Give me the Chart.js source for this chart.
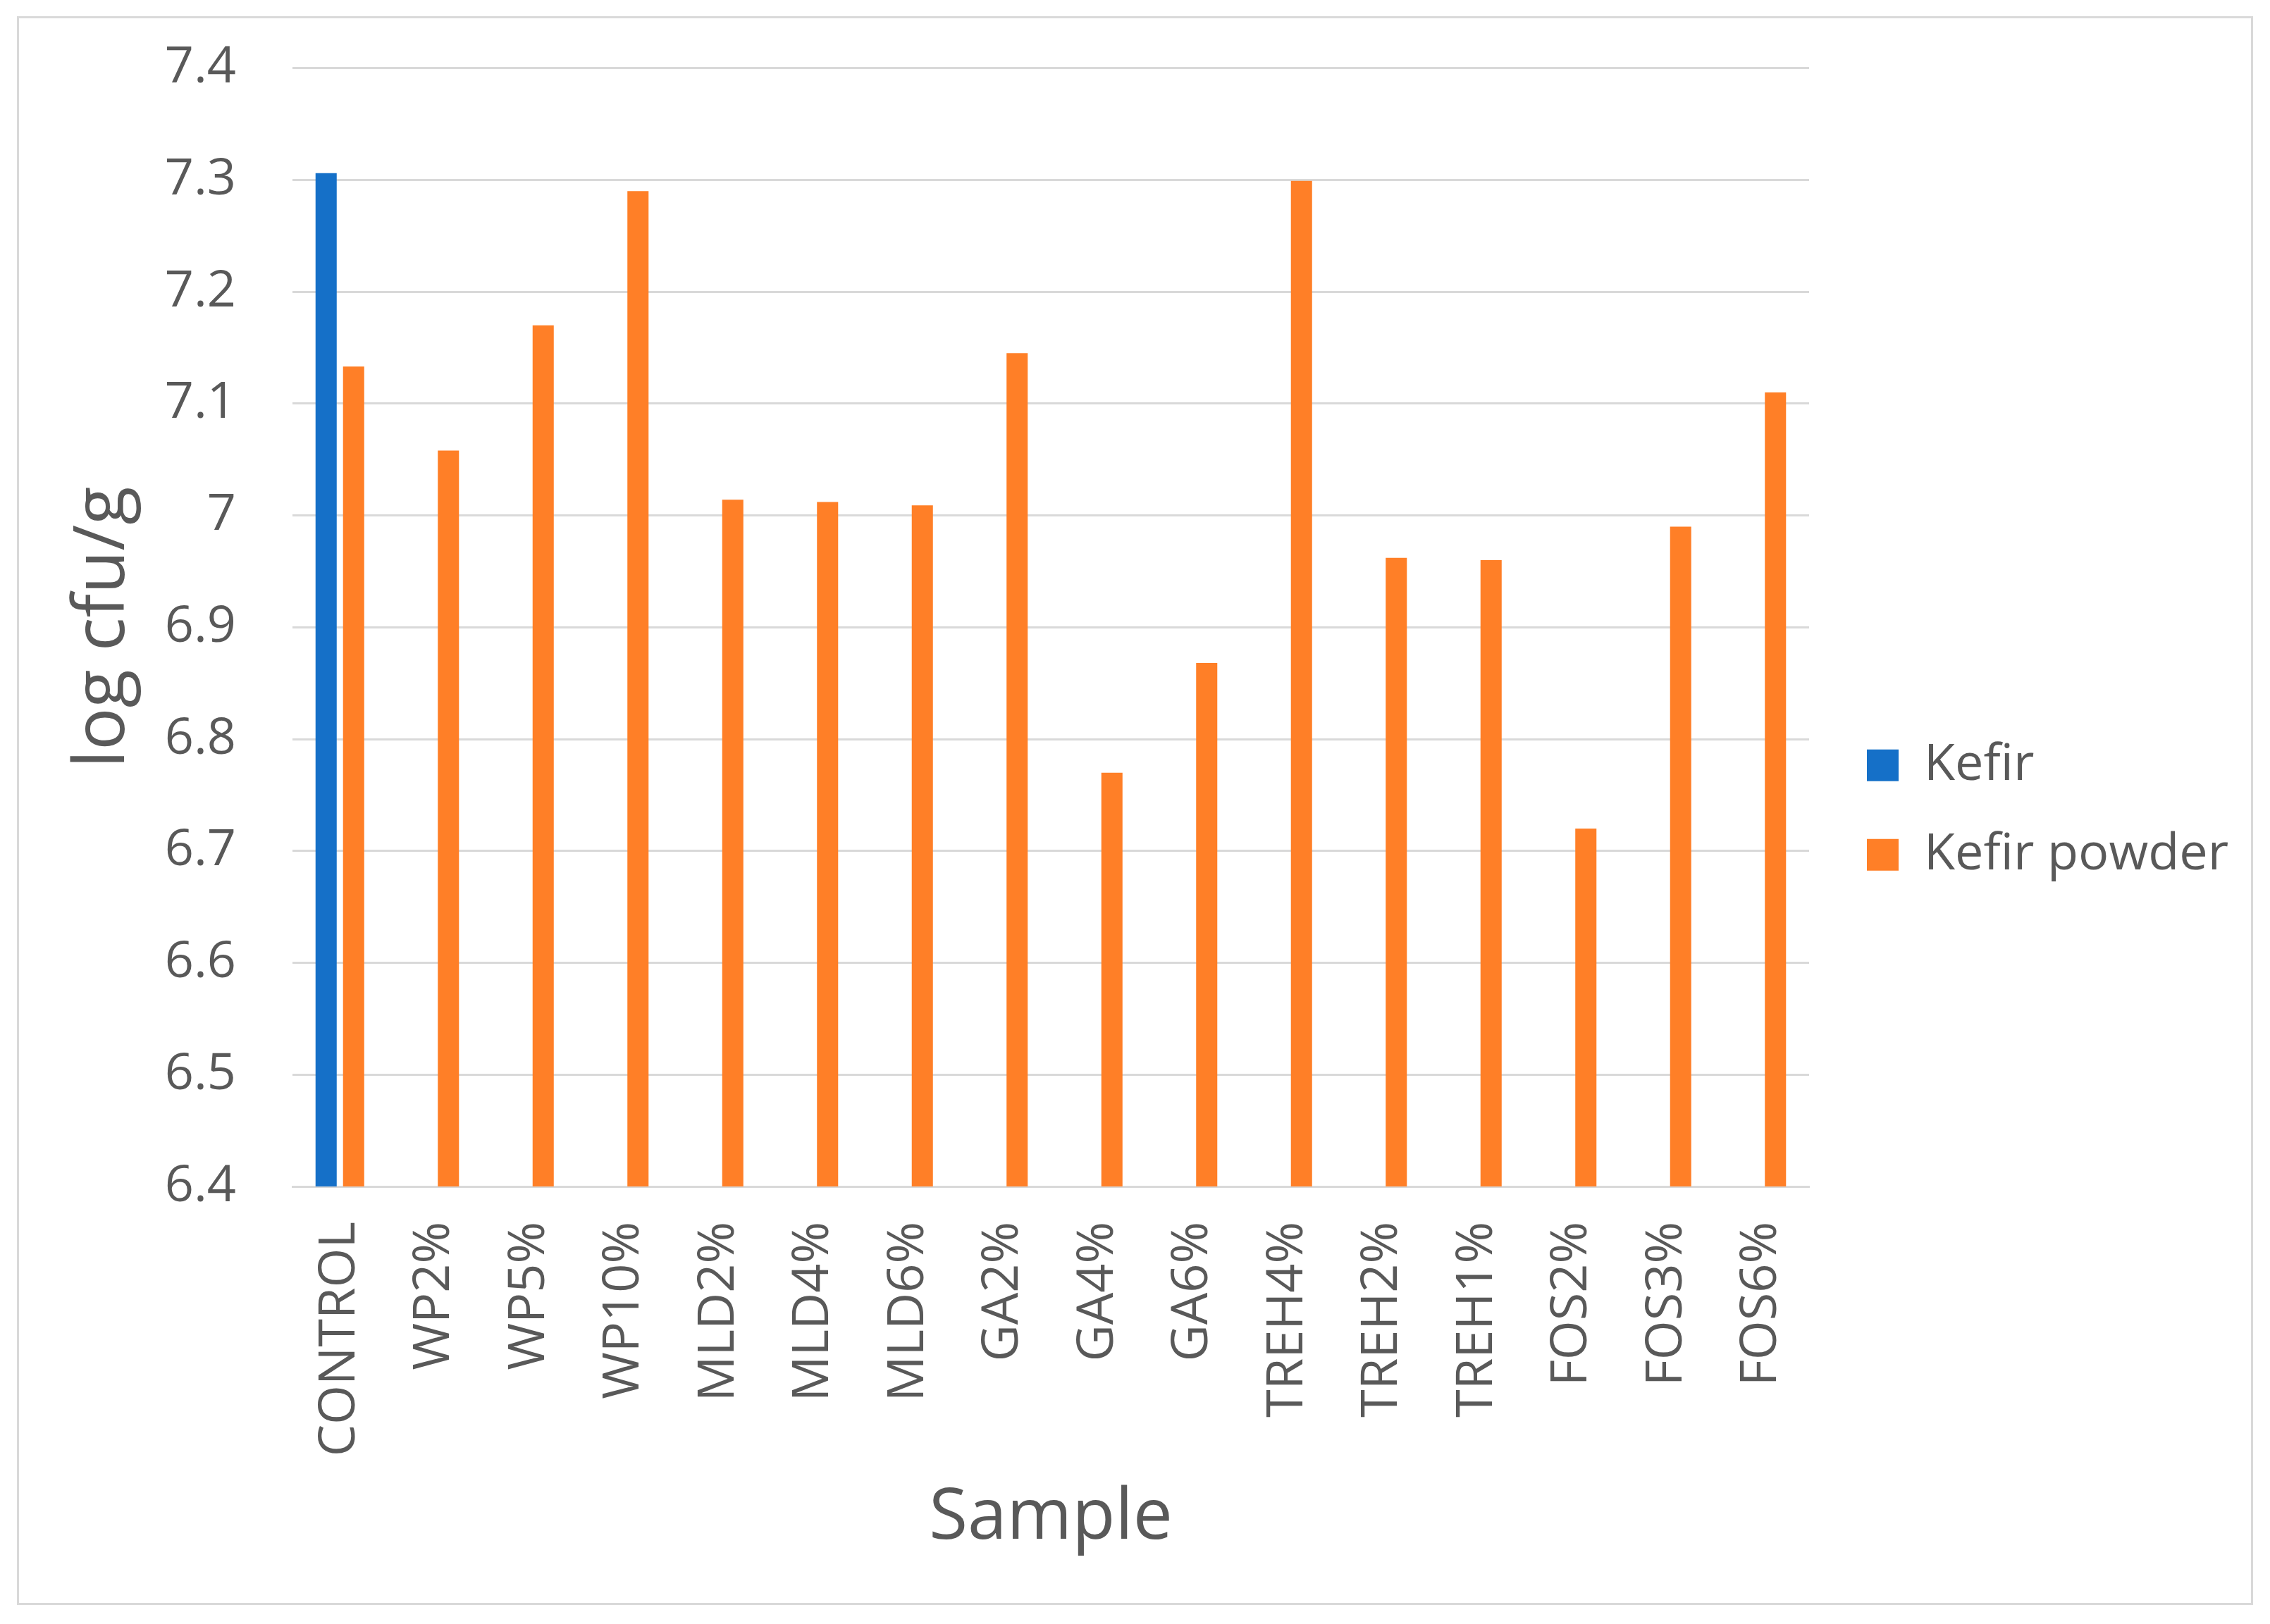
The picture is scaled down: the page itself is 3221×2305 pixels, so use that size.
<!DOCTYPE html>
<html>
<head>
<meta charset="utf-8">
<title>Kefir - log cfu/g</title>
<script src="https://cdn.jsdelivr.net/npm/chart.js@4.4.1/dist/chart.umd.min.js"></script>
<style>
    body { margin: 0; background: #ffffff; }
    #frame {
        position: absolute; left: 24px; top: 23px;
        width: 3173px; height: 2255px;
        border: 3px solid #d9d9d9; box-sizing: border-box;
    }
    #wrap { position: relative; width: 3167px; height: 2249px; }
</style>
</head>
<body>
<div id="frame"><div id="wrap"><canvas id="myChart"></canvas></div></div>
<script>
const samples = ["CONTROL", "WP2%", "WP5%", "WP10%", "MLD2%", "MLD4%", "MLD6%", "GA2%",
    "GA4%", "GA6%", "TREH4%", "TREH2%", "TREH1%", "FOS2%", "FOS3%", "FOS6%"];
const kefir = [7.306, null, null, null, null, null, null, null,
    null, null, null, null, null, null, null, null];
const kefirPowder = [7.133, 7.058, 7.17, 7.29, 7.014, 7.012, 7.009, 7.145,
    6.77, 6.868, 7.299, 6.962, 6.96, 6.72, 6.99, 7.11];
const yTickLabels = ["6.4", "6.5", "6.6", "6.7", "6.8", "6.9", "7", "7.1", "7.2", "7.3", "7.4"];

const textColor = "#595959";
const gridColor = "#d9d9d9";

// legend placement: fixed width, then nudged to where Excel put it
const legendPlace = {
    id: "legendPlace",
    beforeLayout(chart) {
        const lg = chart.legend;
        if (lg && !lg._fixed) {
            const fit = lg.fit.bind(lg);
            lg.fit = function () {
                fit();
                this.width = 627;
            };
            lg._fixed = true;
        }
    },
    afterLayout(chart) {
        const lg = chart.legend;
        lg.left += 27; lg.right += 27;
        lg.top -= 36; lg.bottom -= 36;
    }
};

const ctx = document.getElementById("myChart");
new Chart(ctx, {
    type: "bar",
    data: {
        labels: samples,
        datasets: [{
            label: "Kefir",
            data: kefir,
            backgroundColor: "#1570c8",
            borderWidth: 0
        },
        {
            label: "Kefir powder",
            data: kefirPowder,
            backgroundColor: "#ff7f27",
            borderWidth: 0
        }]
    },
    options: {
        responsive: true,
        maintainAspectRatio: false,
        animation: false,
        devicePixelRatio: 1,
        categoryPercentage: 0.58,
        barPercentage: 0.77,
        layout: {
            autoPadding: false,
            padding: { top: 70.5, right: 0, bottom: 0, left: 0 }
        },
        scales: {
            x: {
                grid: { display: false, drawTicks: false },
                border: { display: true, color: gridColor, width: 3 },
                ticks: {
                    color: textColor,
                    font: { family: "'Open Sans'", size: 72 },
                    minRotation: 90,
                    maxRotation: 90,
                    autoSkip: false,
                    padding: 50
                },
                title: {
                    display: true,
                    text: "Sample",
                    color: textColor,
                    font: { family: "'Open Sans'", size: 100 },
                    padding: { top: 0, bottom: 59 }
                },
                afterFit(scale) {
                    scale.height = 591;
                    scale.paddingLeft = 0;
                    scale.paddingRight = 0;
                }
            },
            y: {
                min: 6.4,
                max: 7.4,
                grid: { color: gridColor, lineWidth: 3, drawTicks: false },
                border: { display: false },
                ticks: {
                    stepSize: 0.1,
                    color: textColor,
                    font: { family: "'Open Sans'", size: 72 },
                    padding: 80,
                    callback: function (value) {
                        return yTickLabels.find(l => Math.abs(parseFloat(l) - value) < 1e-6);
                    }
                },
                title: {
                    display: true,
                    text: "log cfu/g",
                    color: textColor,
                    font: { family: "'Open Sans'", size: 100 },
                    padding: { top: 61, bottom: 0 }
                },
                afterFit(scale) {
                    scale.width = 388;
                    scale.paddingTop = 0;
                    scale.paddingBottom = 0;
                }
            }
        },
        plugins: {
            legend: {
                position: "right",
                labels: {
                    color: textColor,
                    font: { family: "'Open Sans'", size: 72 },
                    boxWidth: 45,
                    boxHeight: 45,
                    padding: 55
                }
            },
            tooltip: { enabled: false }
        }
    },
    plugins: [legendPlace]
});
</script>
</body>
</html>
